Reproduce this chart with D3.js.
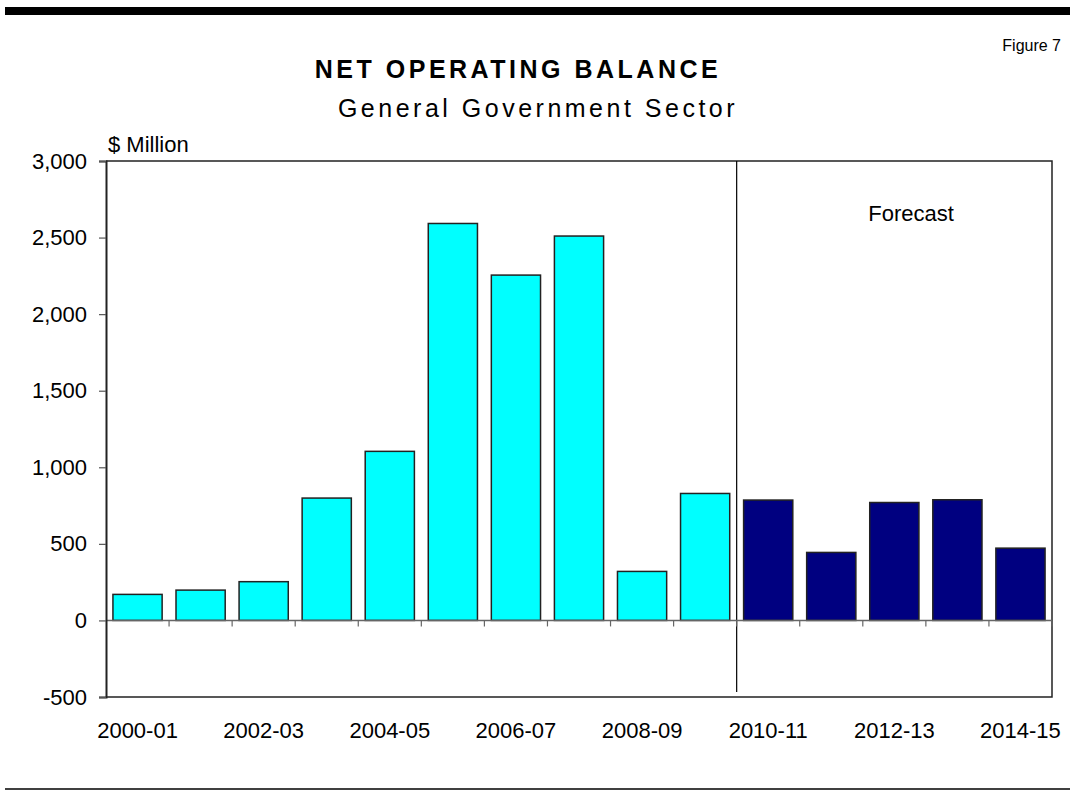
<!DOCTYPE html>
<html>
<head>
<meta charset="utf-8">
<script src="https://cdn.jsdelivr.net/npm/d3@7"></script>
<style>
  html, body { margin: 0; padding: 0; background: #fff; }
  svg { display: block; font-family: Arial, "Liberation Sans", sans-serif; }
</style>
</head>
<body>
<svg id="chart" width="1075" height="791"></svg>
<script>
// Financial years
const years = ["2000-01","2001-02","2002-03","2003-04","2004-05","2005-06","2006-07",
               "2007-08","2008-09","2009-10","2010-11","2011-12","2012-13","2013-14","2014-15"];
// Net operating balance, $ million
const balance = [170, 198, 253, 799, 1104, 2592, 2255, 2510, 320, 829, 786, 444, 770, 788, 472];
// Years from 2010-11 onward are forecasts
const forecastStart = "2010-11";
const yTicks = [-500, 0, 500, 1000, 1500, 2000, 2500, 3000];
const xLabels = ["2000-01","2002-03","2004-05","2006-07","2008-09","2010-11","2012-13","2014-15"];

const svg = d3.select("#chart");
const W = 1075;
const plotL = 106, plotR = 1052, plotT = 161, plotB = 697;

const x = d3.scaleBand().domain(years).range([plotL, plotR]).paddingInner(0.22).paddingOuter(0.11);
const y = d3.scaleLinear().domain([-500, 3000]).range([plotB, plotT]);

// Header and footer rules
svg.append("rect").attr("x", 5).attr("y", 7).attr("width", W - 10).attr("height", 8).attr("fill", "#000");
svg.append("line").attr("x1", 5).attr("x2", W - 5).attr("y1", 789).attr("y2", 789)
  .attr("stroke", "#000").attr("stroke-width", 1.5);

// Titles
svg.append("text").attr("x", 1061).attr("y", 51).attr("text-anchor", "end")
  .attr("font-size", 16).text("Figure 7");
svg.append("text").attr("x", 518).attr("y", 78).attr("text-anchor", "middle")
  .attr("font-size", 25).attr("font-weight", "bold").attr("letter-spacing", 3.5)
  .text("NET OPERATING BALANCE");
svg.append("text").attr("x", 538).attr("y", 117).attr("text-anchor", "middle")
  .attr("font-size", 25).attr("letter-spacing", 3.5)
  .text("General Government Sector");
svg.append("text").attr("x", 108).attr("y", 152).attr("font-size", 22).text("$ Million");

// Plot frame
svg.append("path")
  .attr("d", `M${plotL},${plotT}H${plotR}V${plotB}H${plotL}`)
  .attr("fill", "none").attr("stroke", "#222").attr("stroke-width", 1.5);

// Bars
svg.append("g").selectAll("rect").data(years).join("rect")
  .attr("x", d => x(d))
  .attr("width", x.bandwidth())
  .attr("y", (d, i) => y(Math.max(0, balance[i])))
  .attr("height", (d, i) => Math.abs(y(balance[i]) - y(0)))
  .attr("fill", d => years.indexOf(d) >= years.indexOf(forecastStart) ? "#000080" : "#00FFFF")
  .attr("stroke", "#222").attr("stroke-width", 1.5);

// Forecast divider
const step = x.step();
const divX = x(forecastStart) - x.paddingInner() * step / 2;
svg.append("line").attr("x1", divX).attr("x2", divX).attr("y1", plotT).attr("y2", 692)
  .attr("stroke", "#000").attr("stroke-width", 1.2);
svg.append("text").attr("x", 911).attr("y", 221).attr("text-anchor", "middle")
  .attr("font-size", 22).text("Forecast");

// Zero line with category ticks
const zero = y(0);
svg.append("line").attr("x1", plotL).attr("x2", plotR).attr("y1", zero).attr("y2", zero)
  .attr("stroke", "#666").attr("stroke-width", 1.5);
const boundaries = d3.range(1, years.length + 1).map(i => plotL + i * step);
svg.append("g").selectAll("line").data(boundaries).join("line")
  .attr("x1", d => d).attr("x2", d => d).attr("y1", zero).attr("y2", zero + 6)
  .attr("stroke", "#666").attr("stroke-width", 1.2);

// Y axis (plain hyphen for negatives)
const fmt = d3.format(",");
const yAxis = d3.axisLeft(y).tickValues(yTicks)
  .tickFormat(d => fmt(d).replace("\u2212", "-"))
  .tickSize(7).tickPadding(12);
const gy = svg.append("g").attr("transform", `translate(${plotL},0)`).call(yAxis);
gy.select(".domain").attr("stroke", "#222").attr("stroke-width", 2);
gy.selectAll(".tick line").attr("stroke", "#555").attr("stroke-width", 1.2);
gy.selectAll(".tick text").attr("font-size", 22).attr("fill", "#000")
  .attr("font-family", "Arial, 'Liberation Sans', sans-serif");

// X labels
svg.append("g").selectAll("text").data(xLabels).join("text")
  .attr("x", d => x(d) + x.bandwidth() / 2)
  .attr("y", 738).attr("text-anchor", "middle").attr("font-size", 22)
  .text(d => d);
</script>
</body>
</html>
